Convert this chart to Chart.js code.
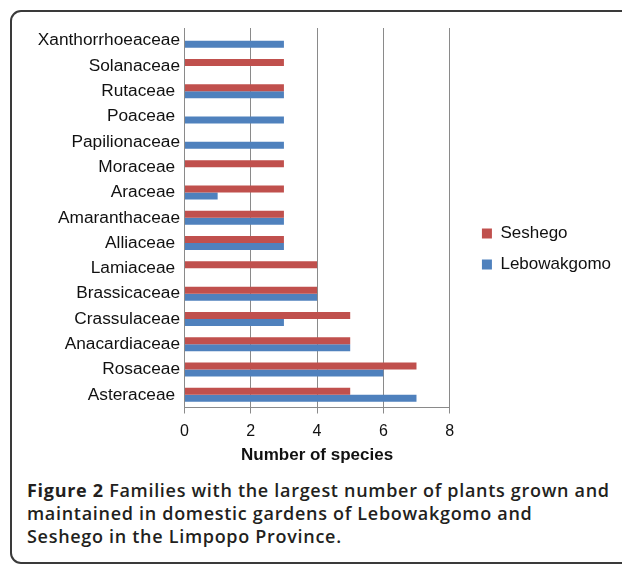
<!DOCTYPE html>
<html>
<head>
<meta charset="utf-8">
<script src="https://cdn.jsdelivr.net/npm/chart.js@4"></script>
<style>
  html, body { margin: 0; padding: 0; background: #fff; }
  body { width: 622px; height: 565px; position: relative; overflow: hidden; }
  #frame { position: absolute; left: 10px; top: 10px; width: 700px; height: 554px;
           border: 2px solid #3a3a3a; border-radius: 11px; box-sizing: border-box; }
  #wrap { position: absolute; left: 0; top: 0; width: 622px; height: 470px; }
  #caption { position: absolute; left: 27px; top: 478.7px; white-space: nowrap;
             font-family: 'Open Sans', sans-serif; font-size: 18px; line-height: 23.3px;
             font-weight: 600; letter-spacing: 0.7px; color: #231f20; }
  #caption b { font-weight: 700; }
</style>
</head>
<body>
<div id="frame"></div>
<div id="wrap"><canvas id="c" width="622" height="470"></canvas></div>
<div id="caption"><b>Figure 2</b> Families with the largest number of plants grown and<br>maintained in domestic gardens of Lebowakgomo and<br>Seshego in the Limpopo Province.</div>
<script>
const families = ['Xanthorrhoeaceae', 'Solanaceae', 'Rutaceae ', 'Poaceae ', 'Papilionaceae', 'Moraceae ', 'Araceae ',
  'Amaranthaceae', 'Alliaceae ', 'Lamiaceae ', 'Brassicaceae', 'Crassulaceae', 'Anacardiaceae', 'Rosaceae', 'Asteraceae '];
const seshego     = [0, 3, 3, 0, 0, 3, 3, 3, 3, 4, 4, 5, 5, 7, 5];
const lebowakgomo = [3, 0, 3, 3, 3, 0, 1, 3, 3, 0, 4, 3, 5, 6, 7];
const xTicks = [0, 2, 4, 6, 8];
const seriesNames = ['Seshego', 'Lebowakgomo'];
const axisTitle = 'Number of species';

const FONT = "'Liberation Sans', Arial, Helvetica, sans-serif";
const GRID = '#8a8a8a';

new Chart(document.getElementById('c'), {
  type: 'bar',
  data: {
    labels: families,
    datasets: [
      { label: seriesNames[0], data: seshego, backgroundColor: '#C0504D', borderWidth: 0,
        categoryPercentage: 0.553, barPercentage: 1 },
      { label: seriesNames[1], data: lebowakgomo, backgroundColor: '#4F81BD', borderWidth: 0,
        categoryPercentage: 0.553, barPercentage: 1 }
    ]
  },
  options: {
    indexAxis: 'y',
    responsive: false,
    animation: false,
    devicePixelRatio: 1,
    layout: { padding: { top: 28, right: 1, bottom: 0, left: 0 } },
    plugins: {
      tooltip: { enabled: false },
      legend: {
        position: 'right',
        align: 'center',
        labels: {
          boxWidth: 10, boxHeight: 10, padding: 14,
          color: '#111', font: { family: FONT, size: 17 }
        }
      }
    },
    scales: {
      x: {
        type: 'linear', min: 0, max: 8,
        afterBuildTicks: s => { s.ticks = xTicks.map(v => ({ value: v })); },
        grid: { color: GRID, lineWidth: 1, drawTicks: true, tickLength: 6, tickColor: GRID },
        border: { display: true, color: GRID, width: 1 },
        ticks: { color: '#111', font: { family: FONT, size: 16 }, padding: 8, maxRotation: 0 },
        title: { display: true, text: axisTitle, color: '#111',
                 font: { family: FONT, size: 17, weight: 'bold' }, padding: { top: 4, bottom: 4 } },
        afterFit: s => { s.height = 62.5; }
      },
      y: {
        type: 'category',
        grid: { display: false, drawTicks: false },
        border: { display: true, color: GRID, width: 1 },
        ticks: { color: '#111', font: { family: FONT, size: 17.3 }, padding: 4.5, autoSkip: false },
        afterFit: s => { s.width = 184.5; }
      },
      yR: {
        type: 'linear', position: 'right', display: false,
        afterFit: s => { s.width = 18.3; }
      }
    }
  }
});
</script>
</body>
</html>
